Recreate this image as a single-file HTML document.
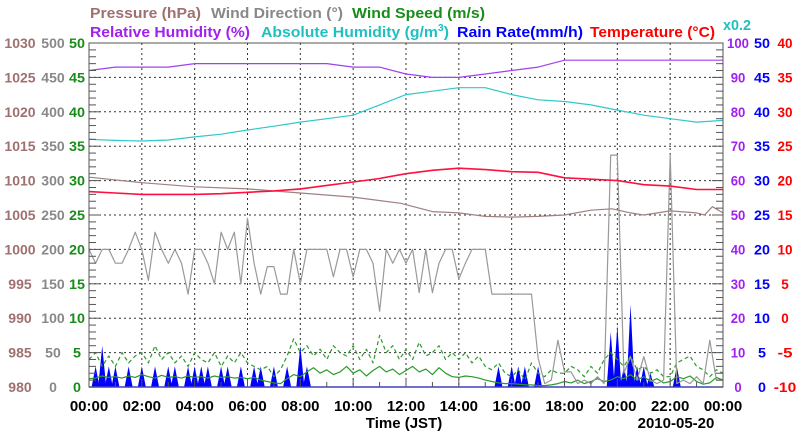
<!DOCTYPE html>
<html><head><meta charset="utf-8"><style>
html,body{margin:0;padding:0;background:#fff}
svg{display:block;font-family:"Liberation Sans",Arial,sans-serif;font-weight:bold}
</style></head><body>
<svg id="chart" width="800" height="434" viewBox="0 0 800 434" xmlns="http://www.w3.org/2000/svg">
<g id="legend" font-size="15">
<text x="90" y="18" fill="#a07070" textLength="111" lengthAdjust="spacingAndGlyphs">Pressure (hPa)</text>
<text x="211" y="18" fill="#888" textLength="132" lengthAdjust="spacingAndGlyphs">Wind Direction (°)</text>
<text x="352" y="18" fill="#1a8c1a" textLength="133" lengthAdjust="spacingAndGlyphs">Wind Speed (m/s)</text>
<text x="90" y="37" fill="#a020f0" textLength="160" lengthAdjust="spacingAndGlyphs">Relative Humidity (%)</text>
<text x="261" y="37" fill="#20c0c0" textLength="188" lengthAdjust="spacingAndGlyphs">Absolute Humidity (g/m<tspan font-size="10" dy="-6">3</tspan><tspan dy="6">)</tspan></text>
<text x="457" y="37" fill="#0000ff" textLength="126" lengthAdjust="spacingAndGlyphs">Rain Rate(mm/h)</text>
<text x="590" y="37" fill="#ff0000" textLength="125" lengthAdjust="spacingAndGlyphs">Temperature (°C)</text>
<text x="723" y="30" fill="#20c0c0" textLength="28" lengthAdjust="spacingAndGlyphs">x0.2</text>
</g>
<g id="grid"></g>
<g id="series"></g>
<g id="axes"></g>
<text x="404" y="428" font-size="15" text-anchor="middle" fill="#000">Time (JST)</text>
<text x="676" y="428" font-size="15" text-anchor="middle" fill="#000">2010-05-20</text>
</svg>
<script>
// ---- data ----
const xTickLabels = ["00:00","02:00","04:00","06:00","08:00","10:00","12:00","14:00","16:00","18:00","20:00","22:00","00:00"];
const pressureTicks = ["980","985","990","995","1000","1005","1010","1015","1020","1025","1030"];
const windDirTicks = ["0","50","100","150","200","250","300","350","400","450","500"];
const windSpeedTicks = ["0","5","10","15","20","25","30","35","40","45","50"];
const rhTicks = ["0","10","20","30","40","50","60","70","80","90","100"];
const rainTicks = ["0","5","10","15","20","25","30","35","40","45","50"];
const tempTicks = ["-10","-5","0","5","10","15","20","25","30","35","40"];

const hourly = [0,1,2,3,4,5,6,7,8,9,10,11,12,13,14,15,16,17,18,19,20,21,22,23,24];
const rhValues = [92,93,93,93,94,94,94,94,94,94,93,93,91,90,90,91,92,93,95,95,95,95,95,95,95];
const absHumValues = [72,71.7,71.5,71.8,72.7,73.5,74.7,75.8,77,78,79,82,85,86,87,87,85,83.5,83,82,80.5,79,78,77,77.5];
const tempValues = [18.4,18.2,18,18,18,18.1,18.3,18.5,18.8,19.3,19.8,20.3,21,21.5,21.8,21.6,21.3,21.2,20.4,20.2,20,19.4,19.2,18.7,18.7];
const pressureHours = [0,2,4,6,8,10,11.8,13,14,15,16,17,18,19,19.8,20.5,21,22,23,23.3,23.6,24];
const pressureValues = [1010.5,1009.7,1009.1,1008.8,1008.2,1007.6,1006.7,1005.5,1005.3,1004.8,1004.7,1004.8,1005,1005.7,1005.9,1005.3,1005,1005.6,1005.3,1005,1006.2,1005.3];

// 15-minute series (97 points, 00:00 .. 24:00)
const windDirValues = [200,180,200,200,180,180,200,225,200,155,225,200,180,200,180,135,
200,200,180,150,225,200,225,150,245,180,135,175,175,135,135,200,
150,200,200,200,200,160,200,200,160,200,200,180,110,200,180,200,
180,200,137,200,137,180,200,200,157,180,200,200,200,135,135,135,
135,135,135,135,42,5,10,68,22,22,5,10,5,15,5,337,
337,20,44,10,44,10,5,10,337,5,10,5,15,5,68,10,10];
const windSpeedValues = [1.2,1.3,1.6,1.4,1.5,1.3,1.6,1.4,1.8,1.5,1.3,1.7,1.4,1.5,1.3,1.6,
1.4,1.5,1.3,1.6,1.4,1.5,1.3,1.4,1.2,1.4,1.0,0.8,0.6,0.5,1.2,1.8,
1.5,2.2,2.8,2.0,2.5,1.8,2.2,3.0,2.0,2.5,1.6,2.4,3.0,2.2,2.6,1.8,
2.4,3.0,2.2,2.6,1.8,2.8,2.0,1.5,1.4,1.6,1.5,1.3,1.0,0.8,0.6,0.5,
0.5,0.4,0.3,0.3,0.2,0.2,0.3,0.5,0.8,0.6,1.0,0.5,0.8,1.2,0.8,1.0,
1.5,1.2,1.8,1.0,1.5,0.8,1.2,0.6,0.8,1.5,1.2,1.6,0.8,0.4,0.6,1.4,1.0];
const gustValues = [4,5,3,4.5,3,5,3.5,4.5,5,3.5,6,4,5,3.5,4.5,3,
5,4,3.5,5,3,4.5,3.5,5,3.5,3,2.5,3,1.5,2.5,4.5,7,
5,6,4.5,5.5,4,6,5,4.5,6,4,5.5,3.5,7.5,5,6,4,
5.5,4,6.5,4.5,5,6,4,5,4,5,3.5,4.5,3,2.5,3.5,2,
1.5,2.5,1,3.5,2,1.5,2.5,2,2,3,2.5,1.5,3,2,4,5,
4,3,4.5,2.5,3,2,2.5,1.5,1.5,3.5,4,4.5,3,2.5,1.5,2.5,2];
const rainValues = [0,3,6,3,3,0,3,0,3,0,3,0,3,3,0,3,
3,3,3,0,3,3,0,3,0,3,3,0,3,0,3,0,
6,3,0,0,0,0,0,0,0,0,0,0,0,0,0,0,
0,0,0,0,0,0,0,0,0,0,0,0,0,0,3,0,
3,3,3,0,3,0,0,0,0,0,0,0,0,0,0,8,
9,3,12,3,3,2,0,0,0,3,0,0,0,0,0,0,0];

// ---- scales ----
const X0=89, X1=723, Y0=387, Y1=43;
const ppx=(Y0-Y1)/10;
const xs=h=>X0+h*(X1-X0)/24;
const yP=p=>Y0-(p-980)/5*ppx;
const yD=d=>Y0-d/50*ppx;
const yS=s=>Y0-s/5*ppx;
const yR=r=>Y0-r/10*ppx;
const yT=t=>Y0-(t+10)/5*ppx;
const NS="http://www.w3.org/2000/svg";
function mk(tag,attrs,parent){const e=document.createElementNS(NS,tag);for(const k in attrs)e.setAttribute(k,attrs[k]);parent.appendChild(e);return e;}
const grid=document.getElementById('grid'),series=document.getElementById('series'),axes=document.getElementById('axes');

// grid
for(let i=1;i<10;i++){const y=Y0-i*ppx;
 const l=mk('line',{x1:X0,x2:X1,y1:y,y2:y,stroke:'#333','stroke-width':1,'stroke-dasharray':'2,3'},grid);
 
 }
for(let i=1;i<12;i++){const x=xs(i*2);
 const l=mk('line',{x1:x,x2:x,y1:Y1,y2:Y0,stroke:'#333','stroke-width':1,'stroke-dasharray':'2,3'},grid);
 
 }

function line(xsArr,vals,ys,color,name,extra){
 const pts=vals.map((v,i)=>xs(xsArr[i]).toFixed(1)+','+ys(v).toFixed(1)).join(' ');
 const a={points:pts,fill:'none',stroke:color,'stroke-width':1.2,'stroke-linejoin':'round'};
 Object.assign(a,extra||{});
 const p=mk('polyline',a,series);
 
 
}
const q=windDirValues.map((_,i)=>i/4);
// rain spikes
rainValues.forEach((v,i)=>{ if(v<=0) return;
 const x=xs(q[i]);
 const p=mk('polygon',{points:(x-4)+','+Y0+' '+x+','+yS(v).toFixed(1)+' '+(x+4)+','+Y0,fill:'#0000ff'},series);
 
 
});
line(q,gustValues,yS,'#2a9a2a','wind-gust-line',{'stroke-dasharray':'4,3'});
line(q,windSpeedValues,yS,'#2a9a2a','wind-speed-line');
line(q,windDirValues,yD,'#999','wind-direction-line');
line(pressureHours,pressureValues,yP,'#a08080','pressure-line');
line(hourly,tempValues,yT,'#ff1040','temperature-line',{'stroke-width':1.6});
line(hourly,absHumValues,yR,'#30c8c8','absolute-humidity-line');
line(hourly,rhValues,yR,'#a040f0','relative-humidity-line');

// axes frame
{const r=mk('rect',{x:X0,y:Y1,width:X1-X0,height:Y0-Y1,fill:'none',stroke:'#555','stroke-width':1},axes);
 
 
 const b=mk('line',{x1:X0,x2:X1,y1:Y0,y2:Y0,stroke:'#4040c0','stroke-width':1.5},axes);
 
 }
for(let i=0;i<=50;i++){const y=Y0-i*ppx/5;const major=i%5===0;const len=major?11:7;
 const a=mk('line',{x1:X0,x2:X0+len,y1:y,y2:y,stroke:'#555','stroke-width':1},axes);
 
 
 const b=mk('line',{x1:X1-len,x2:X1,y1:y,y2:y,stroke:'#555','stroke-width':1},axes);
 
 }
for(let i=0;i<=24;i++){const x=xs(i);
 const t=mk('line',{x1:x,x2:x,y1:Y0,y2:Y0-(i%2===0?8:5),stroke:'#555','stroke-width':1},axes);
 
 }

function lbl(arr,cx,color,name,cw){arr.forEach((s,i)=>{const t=mk('text',{x:cx,y:Y0-i*ppx+5,'font-size':14,'text-anchor':'middle',fill:color,textLength:(s.length*cw).toFixed(1),lengthAdjust:'spacingAndGlyphs'},axes);
 t.textContent=s;
 
 });}
lbl(pressureTicks,20,'#a07070','pressure-tick-label',7.8);
lbl(windDirTicks,53,'#888','wind-direction-tick-label',7.8);
lbl(windSpeedTicks,77,'#1a8c1a','wind-speed-tick-label',8);
lbl(rhTicks,738,'#a020f0','humidity-tick-label',7.3);
lbl(rainTicks,762,'#0000ff','rain-rate-tick-label',8);
lbl(tempTicks,785,'#ff0000','temperature-tick-label',7.5);
xTickLabels.forEach((s,i)=>{const t=mk('text',{x:xs(i*2),y:411,'font-size':15,'text-anchor':'middle',fill:'#000'},axes);
 t.textContent=s;
 
 });
</script>
</body></html>
